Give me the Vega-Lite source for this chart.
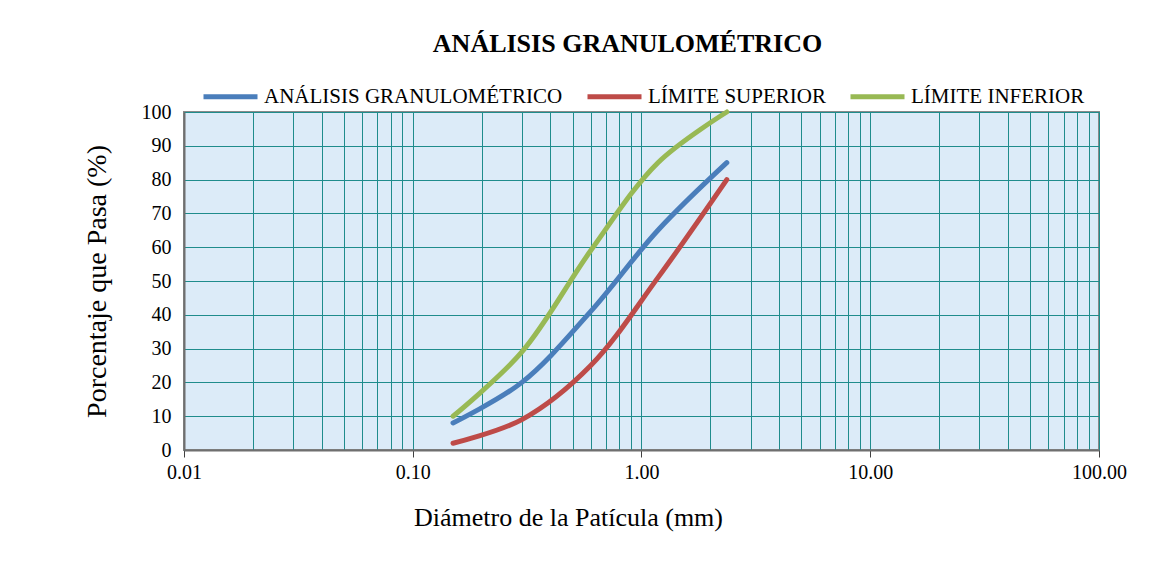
{
  "$schema": "https://vega.github.io/schema/vega-lite/v6.json",
  "width": 915,
  "height": 338,
  "autosize": {"type": "none"},
  "padding": {"left": 184, "top": 112, "right": 66, "bottom": 113},
  "background": "white",
  "title": {
    "text": "ANÁLISIS GRANULOMÉTRICO",
    "font": "Liberation Serif",
    "fontSize": 26,
    "fontWeight": "bold",
    "color": "#000000",
    "anchor": "middle",
    "dx": -14,
    "offset": 10
  },
  "config": {
    "view": {"fill": "#dcebf8", "stroke": "#8a8a8a", "strokeWidth": 2},
    "axis": {
      "labelFont": "Liberation Serif",
      "titleFont": "Liberation Serif",
      "labelColor": "#000000",
      "titleColor": "#000000",
      "titleFontWeight": "normal",
      "labelFontSize": 20,
      "titleFontSize": 26,
      "gridColor": "#1f8c8c",
      "gridOpacity": 1,
      "gridWidth": 1,
      "domainColor": "#6f6f6f",
      "domainWidth": 2,
      "tickColor": "#404040"
    }
  },
  "data": {
    "values": [
      {"d": 0.15, "p": 8, "s": "ANÁLISIS GRANULOMÉTRICO"},
      {"d": 0.3, "p": 20, "s": "ANÁLISIS GRANULOMÉTRICO"},
      {"d": 0.6, "p": 41, "s": "ANÁLISIS GRANULOMÉTRICO"},
      {"d": 1.18, "p": 65, "s": "ANÁLISIS GRANULOMÉTRICO"},
      {"d": 2.36, "p": 85, "s": "ANÁLISIS GRANULOMÉTRICO"},
      {"d": 0.15, "p": 2, "s": "LÍMITE SUPERIOR"},
      {"d": 0.3, "p": 9, "s": "LÍMITE SUPERIOR"},
      {"d": 0.6, "p": 25, "s": "LÍMITE SUPERIOR"},
      {"d": 1.18, "p": 51, "s": "LÍMITE SUPERIOR"},
      {"d": 2.36, "p": 80, "s": "LÍMITE SUPERIOR"},
      {"d": 0.15, "p": 10, "s": "LÍMITE INFERIOR"},
      {"d": 0.3, "p": 29, "s": "LÍMITE INFERIOR"},
      {"d": 0.6, "p": 59, "s": "LÍMITE INFERIOR"},
      {"d": 1.18, "p": 85, "s": "LÍMITE INFERIOR"},
      {"d": 2.36, "p": 100, "s": "LÍMITE INFERIOR"}
    ]
  },
  "mark": {"type": "line", "interpolate": "catmull-rom", "strokeWidth": 5, "strokeCap": "round", "clip": false},
  "encoding": {
    "x": {
      "field": "d",
      "type": "quantitative",
      "scale": {"type": "log", "domain": [0.01, 100], "nice": false},
      "axis": {
        "title": "Diámetro de la Patícula (mm)",
        "titlePadding": 22,
        "titleX": 384,
        "titleAlign": "center",
        "values": [0.01, 0.02, 0.03, 0.04, 0.05, 0.06, 0.07, 0.08, 0.09, 0.1, 0.2, 0.3, 0.4, 0.5, 0.6, 0.7, 0.8, 0.9, 1, 2, 3, 4, 5, 6, 7, 8, 9, 10, 20, 30, 40, 50, 60, 70, 80, 90, 100],
        "labelExpr": "indexof([0.01, 0.1, 1, 10, 100], datum.value) >= 0 ? format(datum.value, '.2f') : ''",
        "tickOpacity": {"condition": {"test": "indexof([0.01, 0.1, 1, 10, 100], datum.value) >= 0", "value": 1}, "value": 0},
        "tickSize": 7,
        "labelPadding": 5,
        "labelFlush": false,
        "labelOverlap": false
      }
    },
    "y": {
      "field": "p",
      "type": "quantitative",
      "scale": {"domain": [0, 100], "nice": false},
      "axis": {
        "title": "Porcentaje que Pasa (%)",
        "titleFontSize": 28,
        "values": [0, 10, 20, 30, 40, 50, 60, 70, 80, 90, 100],
        "ticks": false,
        "labelPadding": 13,
        "titlePadding": 30
      }
    },
    "color": {
      "field": "s",
      "type": "nominal",
      "sort": ["ANÁLISIS GRANULOMÉTRICO", "LÍMITE SUPERIOR", "LÍMITE INFERIOR"],
      "scale": {"domain": ["ANÁLISIS GRANULOMÉTRICO", "LÍMITE SUPERIOR", "LÍMITE INFERIOR"], "range": ["#4a7ebb", "#be4b48", "#98b954"]},
      "legend": {
        "title": null,
        "orient": "none",
        "direction": "horizontal",
        "legendX": 17,
        "legendY": -45,
        "symbolType": "stroke",
        "symbolSize": 2916,
        "symbolStrokeWidth": 5,
        "labelFont": "Liberation Serif",
        "labelFontSize": 21,
        "labelColor": "#000000",
        "labelOffset": 4,
        "columnPadding": 14,
        "labelLimit": 400
      }
    }
  }
}
